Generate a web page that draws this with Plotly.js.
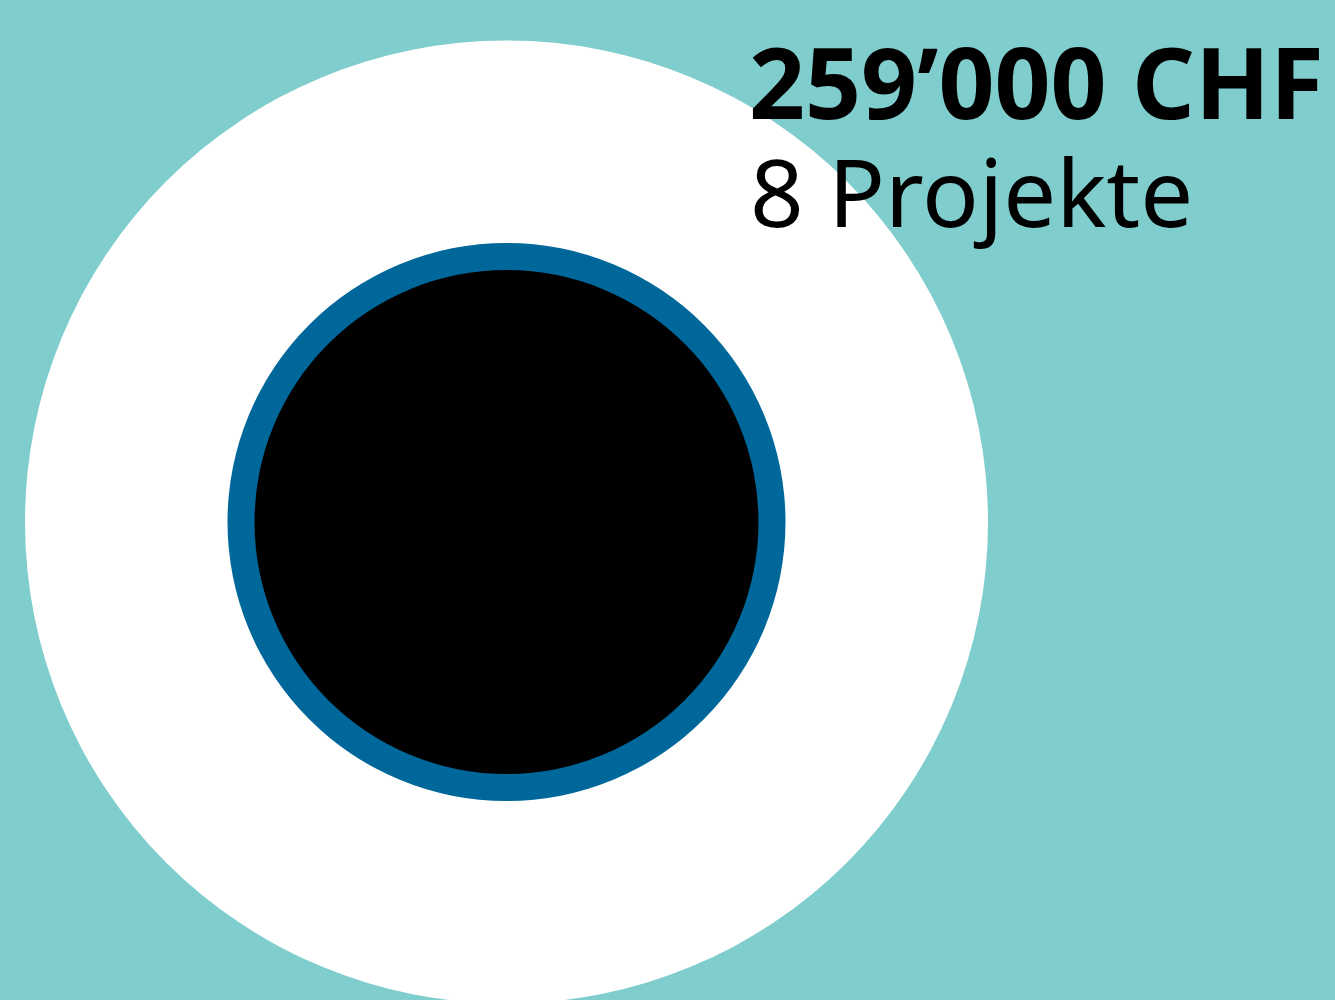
<!DOCTYPE html>
<html>
<head>
<meta charset="utf-8">
<script src="https://cdn.plot.ly/plotly-3.0.1.min.js"></script>
<style>html,body{margin:0;padding:0;background:#80CDCE;}</style>
</head>
<body>
<div id="chart" style="width:1335px;height:1000px;"></div>
<script>
// Circle layers (centre shared), radii in chart units
const layerNames = ["Gesamt", "Ring", "Kern"];
const layerRadii = [481.5, 279, 252];
const layerColors = ["#FFFFFF", "#00679B", "#000000"];
const centerX = 506.5;
const centerY = 522;
// Label text
const amountLabel = "259’000 CHF";
const projectLabel = "8 Projekte";

const shapes = layerNames.map((n, i) => ({
  type: "circle", xref: "x", yref: "y",
  x0: centerX - layerRadii[i], x1: centerX + layerRadii[i],
  y0: centerY - layerRadii[i], y1: centerY + layerRadii[i],
  fillcolor: layerColors[i], line: {width: 0}, layer: "below"
}));

const layout = {
  width: 1335, height: 1000,
  margin: {l: 0, r: 0, t: 0, b: 0},
  paper_bgcolor: "#80CDCE", plot_bgcolor: "rgba(0,0,0,0)",
  showlegend: false,
  xaxis: {range: [0, 1335], visible: false, fixedrange: true},
  yaxis: {range: [1000, 0], visible: false, fixedrange: true},
  shapes: shapes,
  annotations: [
    {x: 747, y: 150, xref: "x", yref: "y", xanchor: "left", yanchor: "bottom",
     text: "<b>" + amountLabel + "</b>", showarrow: false,
     font: {family: "Noto Sans, sans-serif", size: 98, color: "#000"}},
    {x: 748, y: 257, xref: "x", yref: "y", xanchor: "left", yanchor: "bottom",
     text: projectLabel, showarrow: false,
     font: {family: "Noto Sans, sans-serif", size: 94, color: "#000"}}
  ]
};

Plotly.newPlot("chart", [{x: [centerX], y: [centerY], mode: "markers", marker: {size: 0, opacity: 0}, hoverinfo: "skip"}], layout, {displayModeBar: false, staticPlot: true});
</script>
</body>
</html>
